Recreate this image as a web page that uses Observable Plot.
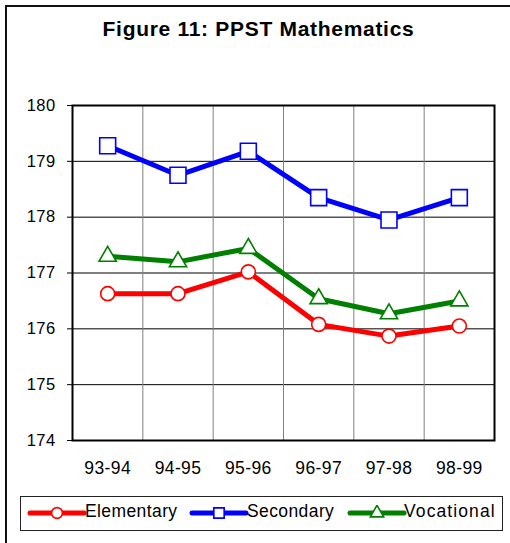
<!DOCTYPE html>
<html>
<head>
<meta charset="utf-8">
<script src="https://cdn.jsdelivr.net/npm/d3@7"></script>
<script src="https://cdn.jsdelivr.net/npm/@observablehq/plot@0.6"></script>
<style>
  html, body { margin: 0; padding: 0; background: #fff; overflow: hidden; }
  body { width: 510px; height: 543px; position: relative; font-family: "Liberation Sans", Arial, sans-serif; }
  #frame { position: absolute; left: 5px; top: 5px; width: 540px; height: 580px; border: 2px solid #111; box-sizing: border-box; }
  #chart { position: absolute; left: 0; top: 0; }
  #chart svg text { letter-spacing: 0.4px; }
  #title { position: absolute; left: 0; width: 517px; top: 17px; text-align: center; font-weight: bold; font-size: 21px; color: #000; letter-spacing: 0.7px; }
  #legend { position: absolute; left: 20px; top: 496px; width: 483px; height: 35px; border: 1px solid #222; box-sizing: border-box; }
  .item { position: absolute; top: 0; height: 33px; }
  .item svg { position: absolute; top: 8px; }
  .item span { position: absolute; top: 4px; font-size: 17.5px; color: #000; white-space: nowrap; letter-spacing: 0.4px; }
</style>
</head>
<body>
<div id="frame"></div>
<div id="chart"></div>
<div id="title"></div>
<div id="legend"></div>
<script>
const title = "Figure 11: PPST Mathematics";
const categories = ["93-94", "94-95", "95-96", "96-97", "97-98", "98-99"];
const yTicks = [174, 175, 176, 177, 178, 179, 180];
const elementary = [176.63, 176.63, 177.02, 176.08, 175.87, 176.05];
const secondary = [179.28, 178.75, 179.18, 178.35, 177.95, 178.35];
const vocational = [177.30, 177.20, 177.44, 176.54, 176.27, 176.50];

const seriesNames = ["Elementary", "Secondary", "Vocational"];
const seriesColors = ["#ff0000", "#0000ff", "#008000"];
const seriesSymbols = ["circle", "square", "triangle"];
const seriesR = [7, 9, 6.4];
const seriesValues = [elementary, secondary, vocational];

const idx = categories.map((_, i) => i);
const boundaries = categories.slice(1).map((_, i) => i + 0.5);

const marks = [
  Plot.ruleY(yTicks, {stroke: "#000", strokeWidth: 1}),
  Plot.ruleX(boundaries, {stroke: "#808080", strokeWidth: 1}),
  Plot.axisY({ticks: yTicks, tickSize: 5, tickPadding: 12, fontSize: 16.5, tickFormat: d => String(d), stroke: "#000", label: null}),
  Plot.axisX({ticks: idx, tickFormat: i => categories[i], tickSize: 0, tickPadding: 21, fontSize: 17.5, label: null}),
  Plot.frame({stroke: "#000", strokeWidth: 2})
];
seriesValues.forEach((vals, s) => {
  const data = vals.map((v, i) => ({i, v}));
  marks.push(Plot.line(data, {x: "i", y: "v", stroke: seriesColors[s], strokeWidth: 5}));
});
seriesValues.forEach((vals, s) => {
  const data = vals.map((v, i) => ({i, v}));
  marks.push(Plot.dot(data, {x: "i", y: "v", symbol: seriesSymbols[s], r: seriesR[s], fill: "#fff", stroke: seriesColors[s], strokeWidth: 1.6}));
});

const chart = Plot.plot({
  width: 510,
  height: 543,
  marginLeft: 72,
  marginRight: 16,
  marginTop: 105,
  marginBottom: 103,
  style: {fontFamily: "'Liberation Sans', Arial, sans-serif", color: "#000", background: "transparent"},
  x: {type: "linear", domain: [-0.5, categories.length - 0.5], axis: null, label: null},
  y: {domain: [yTicks[0], yTicks[yTicks.length - 1]], axis: null, label: null},
  marks
});
document.getElementById("chart").appendChild(chart);
document.getElementById("title").textContent = title;

// legend
const legend = document.getElementById("legend");
const swatchX = [6, 168, 326];
const textX = [64, 226, 383];
const spacing = [0.4, 0.4, 1.1];
seriesNames.forEach((name, s) => {
  const item = document.createElement("div");
  item.className = "item";
  item.style.left = "0px";
  const sym = d3.symbol(s === 0 ? d3.symbolCircle : s === 1 ? d3.symbolSquare : d3.symbolTriangle, Math.PI * seriesR[s] * seriesR[s] * (s === 0 ? 0.6 : s === 1 ? 0.42 : 0.6))();
  item.innerHTML = `<svg width="60" height="16" style="left:${swatchX[s]}px">
    <line x1="3" y1="8" x2="57" y2="8" stroke="${seriesColors[s]}" stroke-width="5" stroke-linecap="round"/>
    <path d="${sym}" transform="translate(30,8)" fill="#fff" stroke="${seriesColors[s]}" stroke-width="1.6"/>
  </svg><span style="left:${textX[s]}px;letter-spacing:${spacing[s]}px">${name}</span>`;
  legend.appendChild(item);
});
</script>
</body>
</html>
